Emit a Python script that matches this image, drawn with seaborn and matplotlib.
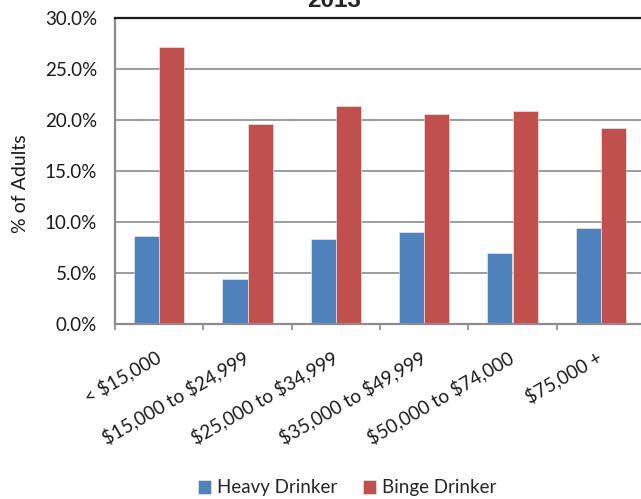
import matplotlib
matplotlib.use("Agg")
import matplotlib.pyplot as plt
import seaborn as sns
import pandas as pd
from matplotlib.ticker import FuncFormatter, FixedLocator

categories = ["< $15,000", "$15,000 to $24,999", "$25,000 to $34,999",
              "$35,000 to $49,999", "$50,000 to $74,000", "$75,000 +"]
heavy = [8.6, 4.4, 8.3, 9.0, 7.0, 9.4]
binge = [27.2, 19.6, 21.4, 20.6, 20.9, 19.2]
series = ["Heavy Drinker", "Binge Drinker"]
title = "2013"
ylabel = "% of Adults"

df = pd.DataFrame({
    "Income": categories * 2,
    "Value": heavy + binge,
    "Series": [series[0]] * len(categories) + [series[1]] * len(categories),
})

sns.set_theme(style="white")
plt.rcParams["font.family"] = ["Lato", "DejaVu Sans"]
plt.rcParams["text.parse_math"] = False

FS = 13.5
W, H = 641, 499
fig = plt.figure(figsize=(W / 100, H / 100), dpi=100)
ax = fig.add_axes([115 / W, 1 - 324 / H, 530 / W, 306 / H])

palette = {series[0]: "#4F81BD", series[1]: "#C0504D"}
sns.barplot(data=df, x="Income", y="Value", hue="Series", order=categories,
            hue_order=series, palette=palette, width=0.57, ax=ax,
            saturation=1, edgecolor="#F2F2F2", linewidth=0.4, legend=True)

ax.set_xlim(-0.5, len(categories) - 0.5)
ax.set_ylim(0, 30)
ax.set_yticks([0, 5, 10, 15, 20, 25, 30])
ax.yaxis.set_major_formatter(FuncFormatter(lambda v, p: f"{v:.1f}%"))
ax.grid(axis="y", color="#8C8C8C", linewidth=1.2)
ax.set_axisbelow(True)

for s in ["left", "bottom"]:
    ax.spines[s].set_color("#8C8C8C")
    ax.spines[s].set_linewidth(1.6)
ax.spines["top"].set_color("#1A1A1A")
ax.spines["top"].set_linewidth(1.6)
ax.spines["right"].set_visible(False)

ax.tick_params(axis="y", length=0, pad=13, labelsize=FS, labelcolor="#1A1A1A")
ax.tick_params(axis="x", which="major", length=0, pad=23, labelsize=FS,
               labelcolor="#1A1A1A")
ax.xaxis.set_minor_locator(FixedLocator([i - 0.5 for i in range(len(categories) + 1)]))
ax.tick_params(axis="x", which="minor", length=4, width=1.2, color="#8C8C8C",
               bottom=True)
for lab in ax.get_xticklabels():
    lab.set_rotation(30)
    lab.set_ha("right")
    lab.set_va("center")
    lab.set_rotation_mode("anchor")

ax.set_xlabel("")
ax.set_ylabel("")
fig.text(21 / W, 1 - 184 / H, ylabel, rotation=90, ha="center", va="center",
         fontsize=14, color="#1A1A1A")

handles, labels = ax.get_legend_handles_labels()
ax.get_legend().remove()
fig.legend(handles, labels, loc="center", bbox_to_anchor=(347 / W, 1 - 488 / H),
           ncol=2, frameon=False, fontsize=FS, handlelength=0.7,
           handleheight=0.7, handletextpad=0.3, columnspacing=1.4)

fig.text(334 / W, 1 - 7 / H, title, ha="center", va="baseline",
         fontsize=17.5, fontweight="bold", family=["Liberation Sans", "DejaVu Sans"])

fig.savefig("out.png", dpi=100)
